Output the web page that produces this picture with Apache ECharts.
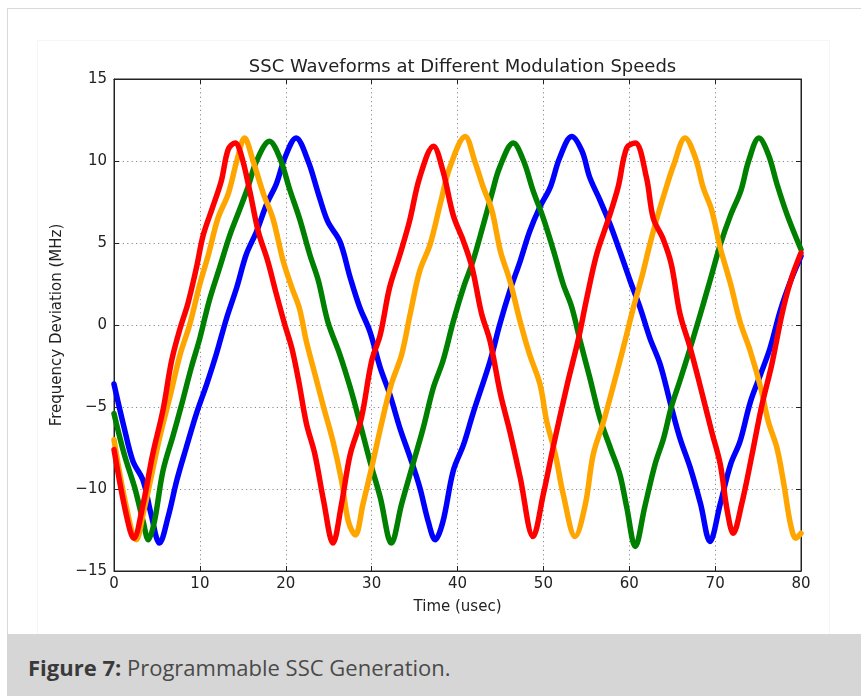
<!DOCTYPE html>
<html>
<head>
<meta charset="utf-8">
<title>SSC Waveforms</title>
<script src="https://cdn.jsdelivr.net/npm/echarts@6/dist/echarts.min.js"></script>
<style>
  html, body { margin: 0; padding: 0; background: #fff; }
  .page { position: relative; width: 861px; height: 696px; overflow: hidden; }
  .frame {
    position: absolute; left: 7px; top: 8px; width: 854px; height: 688px;
    border-top: 1px solid #d9d9d9; border-left: 1px solid #d9d9d9;
  }
  .figure {
    position: absolute; left: 37px; top: 40px; width: 791px; height: 594px;
    border: 1px solid #f6f6f6;
  }
  #chart { position: absolute; left: 0; top: 0; width: 861px; height: 696px; }
  .caption {
    position: absolute; left: 7px; top: 634px; width: 854px; height: 62px;
    overflow: hidden;
    background: #d6d6d6; font-family: "Open Sans", sans-serif; font-size: 22px;
    color: #4a4a4a; line-height: 67px; padding-left: 21px; box-sizing: border-box;
  }
  .caption b { font-weight: 700; color: #3a3a3a; }
</style>
</head>
<body>
<div class="page">
  <div class="frame"></div>
  <div class="figure"></div>
  <div id="chart"></div>
  <div class="caption"><b>Figure 7:</b> Programmable SSC Generation.</div>
</div>
<script>
// values: [time (usec), deviation (MHz)]
var blueData = [
  [0, -3.6], [1.2, -6.3], [2.2, -8.3], [3.4, -9.5], [4.3, -11.5], [5.3, -13.3],
  [6.3, -11.7], [7.3, -9.5], [8.4, -7.5], [9.6, -5.4], [10.8, -3.6], [11.9, -1.8],
  [13.1, 0.4], [14.3, 2.3], [15.4, 4.3], [16.6, 5.7], [17.8, 7.4], [18.9, 8.6],
  [19.9, 10.2], [21.2, 11.4], [22.6, 10.0], [23.8, 8.0], [24.9, 6.3], [26.3, 5.1],
  [27.5, 2.9], [28.6, 1.1], [29.8, -0.4], [31.0, -2.6], [32.1, -4.2], [33.3, -6.3],
  [34.5, -8.1], [35.6, -9.9], [36.6, -12.0], [37.4, -13.1], [38.3, -12.0], [39.5, -8.9],
  [40.7, -7.3], [41.8, -5.4], [43.8, -2.2], [44.9, 0.0], [46.1, 2.1], [47.3, 3.9],
  [48.4, 5.7], [49.6, 7.2], [50.8, 8.4], [51.9, 10.2], [53.3, 11.5], [54.5, 10.6],
  [55.4, 9.0], [56.6, 7.6], [57.8, 6.1], [58.9, 4.5], [60.1, 2.7], [61.3, 1.0],
  [62.4, -0.8], [63.6, -2.4], [64.8, -4.8], [65.9, -6.9], [67.1, -8.7], [68.3, -10.9],
  [69.4, -13.2], [70.6, -10.9], [71.8, -8.5], [72.9, -7.1], [74.1, -4.7], [75.3, -3.0],
  [76.4, -1.4], [77.6, 0.9], [78.8, 2.7], [80, 4.2]
];
var greenData = [
  [0, -5.4], [1.2, -7.9], [2.4, -9.9], [3.4, -12.0], [4.0, -13.1], [4.7, -12.0],
  [5.7, -8.9], [6.9, -6.7], [7.8, -5.0], [9.0, -2.6], [10.0, -0.8], [11.1, 1.5],
  [12.3, 3.5], [13.5, 5.5], [14.6, 7.0], [15.6, 8.4], [16.6, 10.0], [18.1, 11.2],
  [19.3, 10.2], [20.5, 8.2], [21.6, 6.5], [22.8, 4.3], [23.8, 2.7], [24.9, 0.2],
  [26.3, -1.8], [27.5, -3.8], [28.6, -5.9], [29.8, -8.3], [31.0, -10.5], [32.3, -13.3],
  [33.5, -10.9], [34.8, -8.5], [36.0, -6.3], [37.2, -3.8], [38.3, -2.2], [39.5, 0.2],
  [40.7, 2.3], [41.8, 3.9], [43.0, 6.1], [44.0, 8.0], [44.9, 9.6], [46.5, 11.1],
  [47.7, 10.0], [48.8, 8.2], [50.0, 6.5], [51.2, 4.5], [52.3, 2.5], [53.3, 1.1],
  [54.3, -1.0], [55.4, -3.2], [56.6, -5.7], [57.8, -7.5], [58.9, -9.1], [59.7, -11.1],
  [60.7, -13.5], [61.8, -11.1], [63.0, -8.5], [64.0, -6.9], [64.9, -5.0], [65.9, -3.4],
  [67.1, -1.4], [68.3, 0.7], [69.4, 2.7], [70.6, 4.9], [71.8, 6.7], [73.0, 8.2],
  [73.9, 10.0], [75.1, 11.4], [76.2, 10.4], [77.2, 8.6], [78.4, 6.7], [80, 4.6]
];
var orangeData = [
  [0, -7.0], [1.4, -11.0], [2.6, -13.1], [3.4, -11.5], [4.4, -9.1], [5.3, -6.9],
  [6.5, -4.4], [7.7, -1.8], [8.8, 0.0], [10.0, 2.5], [11.0, 4.3], [12.1, 6.5],
  [13.3, 8.0], [14.3, 10.0], [15.2, 11.4], [16.2, 10.0], [17.4, 8.0], [18.5, 6.5],
  [19.7, 3.9], [20.7, 2.3], [21.6, 1.0], [22.4, -1.0], [23.4, -3.0], [24.4, -5.0],
  [25.5, -7.1], [26.5, -9.5], [27.3, -12.0], [28.1, -12.8], [29.0, -10.9], [30.0, -8.7],
  [31.2, -5.9], [32.3, -3.6], [33.5, -1.8], [34.5, 0.7], [35.6, 3.3], [36.8, 4.9],
  [38.0, 7.4], [39.1, 9.6], [40.9, 11.5], [42.0, 10.0], [43.0, 8.4], [44.0, 7.0],
  [45.0, 4.5], [46.1, 2.7], [47.3, 0.2], [48.4, -1.8], [49.6, -3.6], [50.4, -5.9],
  [51.4, -7.9], [52.3, -10.3], [53.7, -12.9], [54.9, -10.9], [55.8, -7.9], [57.0, -5.9],
  [58.2, -3.6], [59.3, -1.4], [60.5, 1.1], [61.5, 3.0], [62.2, 4.5], [63.0, 6.1],
  [64.2, 8.2], [65.2, 9.8], [66.5, 11.4], [67.7, 10.2], [68.6, 8.4], [69.6, 7.0],
  [70.6, 4.7], [71.8, 2.5], [72.9, 0.2], [74.1, -1.6], [75.3, -3.8], [76.2, -5.9],
  [77.2, -7.5], [78.0, -9.7], [78.8, -12.2], [79.4, -13.0], [80, -12.7]
];
var redData = [
  [0, -7.6], [1.4, -11.5], [2.3, -13.0], [3.4, -10.9], [4.5, -7.9], [5.7, -5.2],
  [6.7, -2.2], [7.7, -0.2], [8.6, 1.3], [9.6, 3.5], [10.4, 5.5], [11.5, 7.2],
  [12.5, 8.8], [13.3, 10.7], [14.1, 11.1], [14.8, 10.4], [15.8, 8.2], [16.8, 5.7],
  [17.9, 3.9], [18.9, 1.9], [19.9, 0.0], [20.7, -1.4], [21.5, -3.4], [22.4, -6.0],
  [23.4, -7.9], [24.4, -10.7], [25.5, -13.3], [26.5, -10.9], [27.5, -7.9], [28.8, -5.7],
  [30.0, -2.2], [31.0, -0.6], [32.1, 2.3], [33.3, 4.3], [34.4, 6.3], [35.6, 9.0],
  [37.2, 10.9], [38.3, 9.4], [39.5, 6.7], [40.7, 5.1], [41.7, 3.5], [42.8, 0.7],
  [43.8, -1.0], [45.0, -4.2], [46.1, -6.5], [47.3, -9.3], [48.8, -12.9], [50.0, -10.3],
  [51.2, -7.3], [52.7, -3.8], [54.1, -0.8], [55.0, 1.5], [56.2, 4.3], [57.6, 6.5],
  [58.7, 8.4], [59.7, 10.8], [60.7, 11.1], [62.0, 9.0], [62.8, 6.5], [63.9, 5.3],
  [64.9, 3.7], [65.9, 0.7], [67.1, -1.4], [68.3, -3.8], [69.6, -6.5], [70.6, -8.5],
  [71.4, -11.3], [72.1, -12.7], [73.1, -10.9], [74.3, -7.9], [75.4, -5.0], [76.6, -2.4],
  [77.8, 0.7], [78.8, 2.7], [80, 4.4]
];

var xTicks = [0, 80, 10];   // min, max, step
var yTicks = [-15, 15, 5];

var font = "DejaVu Sans";

function minusLabel(v) {
  return v < 0 ? "\u2212" + Math.abs(v) : String(v);
}

function lineSeries(name, color, data) {
  return {
    name: name,
    type: "line",
    data: data,
    smooth: 0.35,
    showSymbol: false,
    symbol: "none",
    lineStyle: { color: color, width: 5.5, cap: "round", join: "round" },
    itemStyle: { color: color },
    animation: false,
  };
}

var chart = echarts.init(document.getElementById("chart"), null, { renderer: "canvas" });

var gridLine = { show: true, lineStyle: { color: "#8a8a8a", width: 1, type: [1.2, 3.2] } };
var tick = { show: true, inside: true, length: 5, lineStyle: { color: "#222", width: 1 } };

var option = {
  animation: false,
  backgroundColor: "transparent",
  title: {
    text: "SSC Waveforms at Different Modulation Speeds",
    left: 457.5,
    top: 53,
    textAlign: "center",
    textStyle: { fontFamily: font, fontSize: 18, fontWeight: "normal", color: "#222" },
  },
  grid: {
    left: 114, right: 60, top: 79, bottom: 125,
    show: true, backgroundColor: "#fff", borderColor: "#222", borderWidth: 1,
  },
  xAxis: [
    {
      type: "value",
      min: xTicks[0], max: xTicks[1], interval: xTicks[2],
      position: "bottom",
      name: "Time (usec)",
      nameLocation: "middle",
      nameGap: 29,
      nameTextStyle: { fontFamily: font, fontSize: 15, color: "#222" },
      axisLine: { show: true, onZero: false, lineStyle: { color: "#222", width: 1 } },
      axisTick: tick,
      splitLine: gridLine,
      axisLabel: { fontFamily: font, fontSize: 15, color: "#222", margin: 6, showMinLabel: true, showMaxLabel: true },
    },
    {
      type: "value",
      min: xTicks[0], max: xTicks[1], interval: xTicks[2],
      position: "top",
      axisLine: { show: true, onZero: false, lineStyle: { color: "#222", width: 1 } },
      axisTick: tick,
      splitLine: { show: false },
      axisLabel: { show: false },
    },
  ],
  yAxis: [
    {
      type: "value",
      min: yTicks[0], max: yTicks[1], interval: yTicks[2],
      position: "left",
      name: "Frequency Deviation (MHz)",
      nameLocation: "middle",
      nameGap: 44,
      nameTextStyle: { fontFamily: font, fontSize: 15, color: "#222" },
      axisLine: { show: true, onZero: false, lineStyle: { color: "#222", width: 1 } },
      axisTick: tick,
      splitLine: gridLine,
      axisLabel: { fontFamily: font, fontSize: 15, color: "#222", margin: 7, formatter: minusLabel },
    },
    {
      type: "value",
      min: yTicks[0], max: yTicks[1], interval: yTicks[2],
      position: "right",
      axisLine: { show: true, onZero: false, lineStyle: { color: "#222", width: 1 } },
      axisTick: tick,
      splitLine: { show: false },
      axisLabel: { show: false },
    },
  ],
  series: [
    lineSeries("blue", "#0000ff", blueData),
    lineSeries("green", "#008000", greenData),
    lineSeries("orange", "#ffa500", orangeData),
    lineSeries("red", "#ff0000", redData),
  ],
};

chart.setOption(option);
</script>
</body>
</html>
